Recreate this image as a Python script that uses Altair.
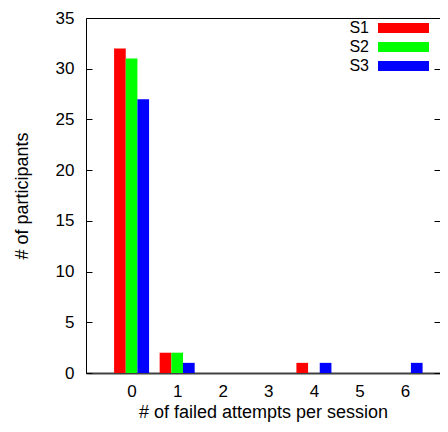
import altair as alt
import pandas as pd

attempts = [0, 1, 2, 3, 4, 5, 6]
series = ["S1", "S2", "S3"]
s1 = [32, 2, 0, 0, 1, 0, 0]
s2 = [31, 2, 0, 0, 0, 0, 0]
s3 = [27, 1, 0, 0, 1, 0, 1]
colors = ["#ff0000", "#00ff00", "#0000ff"]
y_ticks = [0, 5, 10, 15, 20, 25, 30, 35]

rows = []
for i, (name, vals) in enumerate(zip(series, [s1, s2, s3])):
    for a, v in zip(attempts, vals):
        rows.append({"attempts": a, "series": name, "idx": i, "count": v})
df = pd.DataFrame(rows)

FONT = "Liberation Sans"
xscale = alt.Scale(domain=[-1, 6.766], nice=False, zero=False)
yscale = alt.Scale(domain=[0, 35], nice=False)

base = alt.Chart(df).transform_filter("datum.count > 0").transform_calculate(
    x0="datum.attempts - 0.384 + 0.256 * datum.idx"
).transform_calculate(
    x1="datum.x0 + 0.256"
)

bars = base.mark_bar().encode(
    x=alt.X("x0:Q", scale=xscale,
            axis=alt.Axis(orient="bottom", values=attempts, format="d",
                          title="# of failed attempts per session", ticks=False,
                          domainColor="#404040", domainWidth=2, grid=False,
                          labelPadding=10, titlePadding=4)),
    x2="x1:Q",
    y=alt.Y("count:Q", scale=yscale,
            axis=alt.Axis(orient="left", values=y_ticks, title="# of participants",
                          ticks=False, domainColor="black", grid=False,
                          labelPadding=12, titlePadding=24)),
    y2=alt.datum(0),
    color=alt.Color("series:N", scale=alt.Scale(domain=series, range=colors),
                    legend=alt.Legend(orient="none", legendX=267, legendY=2, title=None,
                                      symbolType="M3.4,-1H13.6V1H3.4Z", symbolSize=100,
                                      symbolStrokeWidth=0, labelAlign="right",
                                      labelOffset=0, labelFontSize=16, labelFont=FONT,
                                      labelColor="black", rowPadding=3)),
)

ticks_left = base.mark_bar(opacity=0).encode(
    x=alt.X("x0:Q", scale=xscale,
            axis=alt.Axis(orient="top", labels=False, ticks=False, title=None,
                          domainColor="black", grid=False)),
    x2="x1:Q",
    y=alt.Y("count:Q", scale=yscale,
            axis=alt.Axis(orient="left", offset=-6, tickSize=6, values=y_ticks,
                          labels=False, domain=False, title=None, grid=False,
                          tickColor="black")),
    y2=alt.datum(0),
)

ticks_right = base.mark_bar(opacity=0).encode(
    x=alt.X("x0:Q", scale=xscale, axis=None),
    x2="x1:Q",
    y=alt.Y("count:Q", scale=yscale,
            axis=alt.Axis(orient="right", offset=-6, tickSize=6, values=y_ticks,
                          labels=False, domain=False, title=None, grid=False,
                          tickColor="black")),
    y2=alt.datum(0),
)

chart = alt.layer(bars, ticks_left, ticks_right).resolve_axis(
    x="independent", y="independent"
).properties(
    width=354, height=355,
    autosize=alt.AutoSizeParams(type="none"),
    padding={"left": 78, "top": 10, "right": 0, "bottom": 51},
).configure_view(stroke=None).configure_axis(
    labelFont=FONT, labelFontSize=17, labelColor="black",
    titleFont=FONT, titleFontSize=18, titleFontWeight="normal", titleColor="black",
)

chart.save("out.html", embed_options={"renderer": "svg", "actions": False})
